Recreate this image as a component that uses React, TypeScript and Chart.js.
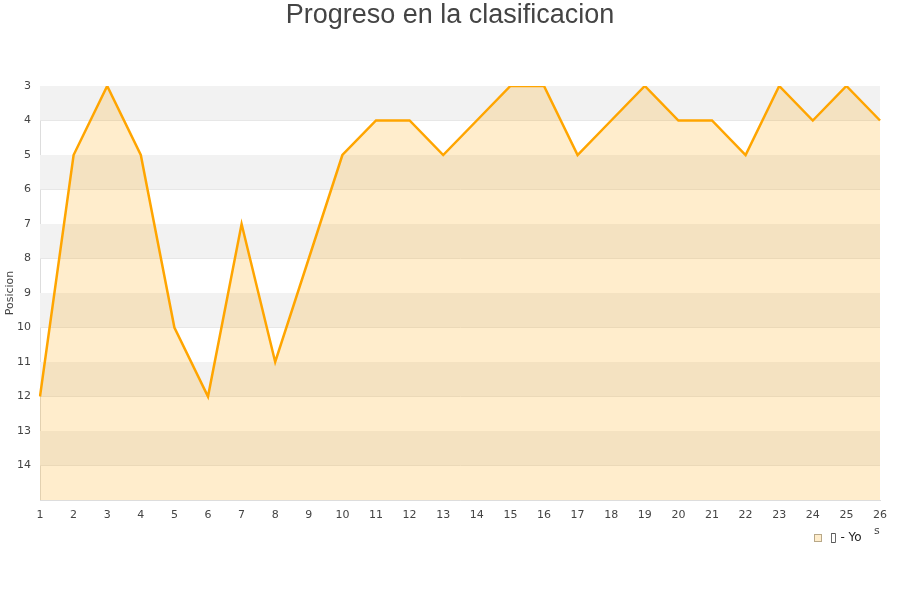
import React, { useEffect, useRef } from "react";
import { Chart, registerables } from "chart.js";

Chart.register(...registerables);

const jornadas = ["1","2","3","4","5","6","7","8","9","10","11","12","13","14","15","16","17","18","19","20","21","22","23","24","25","26"];
const posiciones = [12, 5, 3, 5, 10, 12, 7, 11, 8, 5, 4, 4, 5, 4, 3, 3, 5, 4, 3, 4, 4, 5, 3, 4, 3, 4];
const titleText = "Progreso en la clasificacion";
const seriesLabel = "\u25AF - Yo";
const yAxisTitle = "Posicion";
const yMin = 3;
const yMax = 15;

const bandsPlugin = {
  id: "bands",
  beforeDatasetsDraw(chart: any) {
    const { ctx, chartArea, scales } = chart;
    const y = scales.y;
    ctx.save();
    ctx.fillStyle = "#f2f2f2";
    for (let v = yMin; v < yMax; v += 2) {
      const y1 = y.getPixelForValue(v);
      const y2 = y.getPixelForValue(v + 1);
      ctx.fillRect(chartArea.left, Math.min(y1, y2), chartArea.right - chartArea.left, Math.abs(y2 - y1));
    }
    ctx.restore();
  },
};

const decorPlugin = {
  id: "decor",
  afterDraw(chart: any) {
    const { ctx } = chart;
    ctx.save();
    ctx.fillStyle = "#444444";
    ctx.font = "27px 'Liberation Sans', Arial, sans-serif";
    ctx.textAlign = "center";
    ctx.textBaseline = "middle";
    ctx.fillText(titleText, 450, 16);

    // legend
    ctx.fillStyle = "rgba(255,165,0,0.2)";
    ctx.fillRect(814.5, 534.5, 7, 7);
    ctx.strokeStyle = "#b8a888";
    ctx.lineWidth = 1;
    ctx.strokeRect(814.5, 534.5, 7, 7);
    ctx.fillStyle = "#222222";
    ctx.font = "12px 'DejaVu Sans', sans-serif";
    ctx.textAlign = "left";
    ctx.fillText(seriesLabel, 830, 538);

    // x axis title fragment
    ctx.fillStyle = "#444444";
    ctx.font = "11px 'DejaVu Sans', sans-serif";
    ctx.fillText("s", 874, 531);
    ctx.restore();
  },
};

export default function App() {
  const ref = useRef<HTMLCanvasElement>(null);
  useEffect(() => {
    if (!ref.current) return;
    const chart = new Chart(ref.current, {
      type: "line",
      data: {
        labels: jornadas,
        datasets: [
          {
            label: seriesLabel,
            data: posiciones,
            borderColor: "#ffa500",
            backgroundColor: "rgba(255,165,0,0.2)",
            borderWidth: 2.5,
            fill: { value: yMax },
            pointRadius: 0,
            tension: 0,
          },
        ],
      },
      options: {
        animation: false,
        responsive: false,
        layout: { padding: { top: 86, right: 20, left: 0, bottom: 0 } },
        plugins: { legend: { display: false }, title: { display: false }, tooltip: { enabled: false } },
        scales: {
          x: {
            offset: false,
            grid: { display: false, drawTicks: false },
            border: { display: true, color: "#dddddd" },
            ticks: { color: "#444444", font: { size: 11, family: "'DejaVu Sans', sans-serif" }, padding: 9, maxRotation: 0, autoSkip: false },
            afterFit(scale: any) { scale.height = 100; },
          },
          y: {
            reverse: true,
            min: yMin,
            max: yMax,
            grid: { color: "#dddddd", drawTicks: false },
            border: { display: true, color: "#dddddd" },
            ticks: {
              stepSize: 1,
              color: "#444444",
              padding: 9,
              font: { size: 11, family: "'DejaVu Sans', sans-serif" },
              callback: (v: any) => (v === yMax ? "" : String(v)),
            },
            title: { display: true, text: yAxisTitle, color: "#444444", font: { size: 11, family: "'DejaVu Sans', sans-serif" }, padding: { top: 4, bottom: 0 } },
            afterFit(scale: any) { scale.width = 40; },
          },
        },
      },
      plugins: [bandsPlugin, decorPlugin],
    });
    return () => chart.destroy();
  }, []);
  return (
    <div style={{ position: "fixed", left: 0, top: 0, width: 900, height: 600, background: "#ffffff" }}>
      <canvas ref={ref} width={900} height={600} />
    </div>
  );
}
